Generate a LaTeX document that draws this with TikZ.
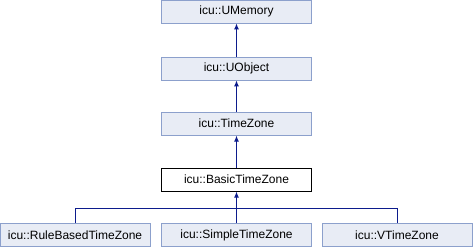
\documentclass[tikz,border=0pt]{standalone}
\usepackage{fontspec}
\setmainfont{Liberation Sans}
\usetikzlibrary{arrows.meta}
\definecolor{boxfill}{HTML}{E8ECF5}
\definecolor{boxline}{HTML}{8CA0CC}
\definecolor{arrowc}{HTML}{0C1B8C}
\begin{document}
\begin{tikzpicture}[x=1pt,y=-1pt,
  cls/.style={draw=boxline,fill=boxfill,line width=0.9pt,minimum width=150pt,minimum height=23pt,inner sep=0pt,font=\fontsize{12}{14}\selectfont},
  cur/.style={cls,draw=black,fill=white},
  conn/.style={draw=arrowc,line width=0.9pt},
  arr/.style={conn,-{Latex[length=6pt,width=5pt]}}]
\useasboundingbox (0,0) rectangle (473,248);
\node[cls] (um) at (236.5,11.5) {icu::UMemory};
\node[cls] (uo) at (236.5,68.5) {icu::UObject};
\node[cls] (tz) at (236.5,123.7) {icu::TimeZone};
\node[cur] (btz) at (236.5,179.7) {icu::BasicTimeZone};
\node[cls] (rb) at (75,235) {icu::RuleBasedTimeZone};
\node[cls] (st) at (236.5,235) {icu::SimpleTimeZone};
\node[cls] (vt) at (397,235) {icu::VTimeZone};
\coordinate (j) at (236.5,208.3);
\draw[arr] (uo.north) -- (um.south);
\draw[arr] (tz.north) -- (uo.south);
\draw[arr] (btz.north) -- (tz.south);
\draw[arr] (st.north) -- (btz.south);
\draw[conn] (rb.north) |- (j) -| (vt.north);
\end{tikzpicture}
\end{document}
